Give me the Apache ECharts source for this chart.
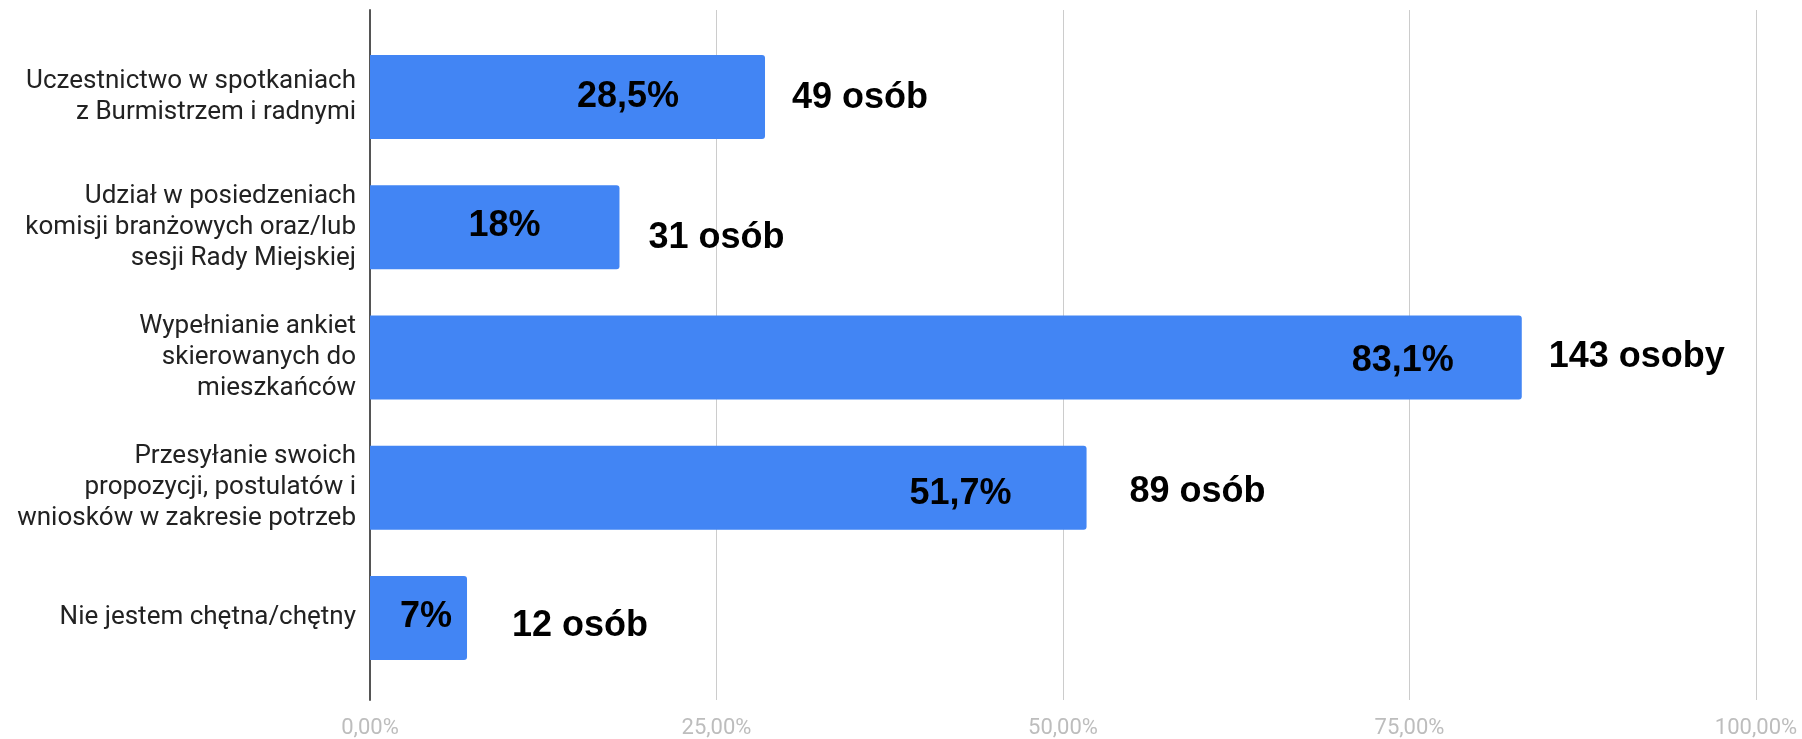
<!DOCTYPE html>
<html>
<head>
<meta charset="utf-8">
<script src="https://cdn.jsdelivr.net/npm/echarts@6/dist/echarts.min.js"></script>
<style>
  html, body { margin: 0; padding: 0; background: #fff; }
  #chart { width: 1802px; height: 739px; }
</style>
</head>
<body>
<div id="chart"></div>
<script>
// data
var categories = [
    'Uczestnictwo w spotkaniach\nz Burmistrzem i radnymi',
    'Udział w posiedzeniach\nkomisji branżowych oraz/lub\nsesji Rady Miejskiej',
    'Wypełnianie ankiet\nskierowanych do\nmieszkańców',
    'Przesyłanie swoich\npropozycji, postulatów i\nwniosków w zakresie potrzeb',
    'Nie jestem chętna/chętny'
];
var percents = [28.5, 18, 83.1, 51.7, 7];
var counts = [49, 31, 143, 89, 12];
var countWords = ['osób', 'osób', 'osoby', 'osób', 'osób'];
var tickValues = [0, 25, 50, 75, 100];

// hand placed labels in the original, nudges only (not data)
var pctNudge = [[-86, 0], [-79, -1], [-68, 4], [-75, 6], [-15, -1]];
var cntNudge = [[27, 1], [29, 11], [27, 0], [43, 4], [45, 8]];

function fmtPct(v) {
    return String(v).replace('.', ',') + '%';
}

var chart = echarts.init(document.getElementById('chart'));

var pctData = [];
var cntData = [];
for (var i = 0; i < percents.length; i++) {
    pctData.push({
        value: percents[i],
        label: { offset: pctNudge[i] }
    });
    cntData.push({
        value: percents[i],
        label: { offset: cntNudge[i] }
    });
}

var option = {
    animation: false,
    backgroundColor: '#fff',
    grid: [
        { left: 370, right: 46, top: 10, bottom: 34 },  // gridlines + axis
        { left: 370, right: 46, top: 32, bottom: 56 }   // bars
    ],
    xAxis: [
        {
            gridIndex: 0, type: 'value',
            min: tickValues[0], max: tickValues[tickValues.length - 1], interval: 25,
            axisLine: { show: false },
            axisTick: { show: false },
            splitLine: { lineStyle: { color: '#cccccc', width: 1 } },
            axisLabel: {
                margin: 17,
                color: '#bdbdbd',
                fontFamily: 'Roboto',
                fontSize: 22,
                formatter: function(v) {
                    return v.toFixed(2).replace('.', ',') + '%';
                }
            }
        },
        {
            gridIndex: 1, type: 'value', min: 0, max: 100, interval: 25,
            show: false
        }
    ],
    yAxis: [
        {
            gridIndex: 0, type: 'value', min: 0, max: 1,
            axisLine: { show: true, lineStyle: { color: '#555', width: 2 } },
            axisTick: { show: false },
            axisLabel: { show: false },
            splitLine: { show: false }
        },
        {
            gridIndex: 1, type: 'category', inverse: true,
            data: categories,
            axisLine: { show: false },
            axisTick: { show: false },
            axisLabel: {
                margin: 14,
                color: '#222',
                fontFamily: 'Roboto',
                fontSize: 26,
                lineHeight: 31,
                align: 'right'
            }
        }
    ],
    series: [
        {
            name: 'procent',
            type: 'bar',
            xAxisIndex: 1,
            yAxisIndex: 1,
            barWidth: 84,
            itemStyle: { color: '#4285f4', borderRadius: [0, 3, 3, 0] },
            label: {
                show: true,
                position: 'insideRight',
                distance: 0,
                color: '#000',
                fontFamily: 'Liberation Sans',
                fontWeight: 'bold',
                fontSize: 36,
                formatter: function(p) { return fmtPct(p.value); }
            },
            data: pctData,
            z: 2
        },
        {
            name: 'liczba',
            type: 'bar',
            xAxisIndex: 1,
            yAxisIndex: 1,
            barWidth: 84,
            barGap: '-100%',
            itemStyle: { color: 'rgba(0,0,0,0)' },
            label: {
                show: true,
                position: 'right',
                distance: 0,
                color: '#000',
                fontFamily: 'Liberation Sans',
                fontWeight: 'bold',
                fontSize: 36,
                formatter: function(p) {
                    return counts[p.dataIndex] + ' ' + countWords[p.dataIndex];
                }
            },
            data: cntData,
            z: 3
        }
    ]
};

chart.setOption(option);
</script>
</body>
</html>
